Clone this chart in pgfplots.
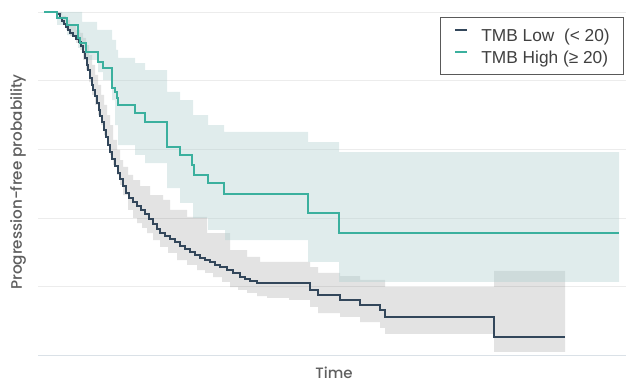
\documentclass[border=0pt]{standalone}
\usepackage{pgfplots}
\pgfplotsset{compat=1.18}
\usepgfplotslibrary{fillbetween}
\usepackage{fontspec}
\setmainfont{Poppins}[UprightFont=* Medium]
\newfontfamily\legendfont{Liberation Sans}
\definecolor{lowc}{RGB}{51,71,91}
\definecolor{highc}{RGB}{59,176,158}
\definecolor{tealband}{RGB}{177,207,207}
\definecolor{gridc}{RGB}{236,236,236}
\definecolor{axisc}{RGB}{218,225,231}
\definecolor{labelc}{RGB}{95,95,95}
\begin{document}
\begin{tikzpicture}
\begin{axis}[
  scale only axis, width=588bp, height=343.5bp,
  xmin=-0.6, xmax=58.2, ymin=0, ymax=1,
  axis x line*=bottom, axis y line*=left,
  x axis line style={draw=axisc, line width=1bp, -},
  y axis line style={draw=none},
  xtick=\empty, ytick={0.2,0.4,0.6,0.8,1.0}, yticklabels={,,,,}, major tick length=0pt,
  ymajorgrids, major grid style={draw=gridc, line width=0.8bp},
  legend cell align=left,
  legend style={at={(0.9966,0.9854)}, anchor=north east, draw=black!65, line width=0.6bp,
    font=\legendfont\fontsize{17.3bp}{19bp}\selectfont, text=black!75,
    inner xsep=14bp, inner ysep=9.5bp, row sep=6bp, column sep=13bp,
    nodes={inner xsep=0bp, inner ysep=0bp, text height=15bp, text depth=1bp}},
  legend image code/.code={\draw[#1, line width=2bp] (0bp,5bp) -- (12bp,5bp);},
]
\coordinate (O) at (rel axis cs:0,0);
% gray band (TMB Low CI)
\addplot[const plot, draw=none, forget plot, name path=LU] table {
0 1.000
1.8 0.9884
2.2 0.9767
2.6 0.9622
3.2 0.9476
3.6 0.9389
3.9 0.9243
4.2 0.9039
4.5 0.8748
4.8 0.8457
5.1 0.8166
5.4 0.7875
5.7 0.7584
6.0 0.7293
6.3 0.7001
6.6 0.6710
6.9 0.6274
7.3 0.5983
7.6 0.5691
7.9 0.5488
8.4 0.5255
8.9 0.5109
9.6 0.4934
10.6 0.4672
11.9 0.4527
12.6 0.4236
14.3 0.4032
16.3 0.3566
18.6 0.3071
20.3 0.2868
21.6 0.2722
26.6 0.2576
27.4 0.2402
29.6 0.2314
31.6 0.2198
34.1 0.1994
45.0 0.2460
52.1 0.2460
};
\addplot[const plot, draw=none, forget plot, name path=LL] table {
0 1.000
1.3 0.9913
1.8 0.9680
2.2 0.9476
2.6 0.9301
3.2 0.9098
3.6 0.8894
3.9 0.8603
4.2 0.8311
4.5 0.7962
4.8 0.7584
5.1 0.7293
5.4 0.7001
5.7 0.6710
6.0 0.6419
6.3 0.6128
6.6 0.5837
6.9 0.5546
7.3 0.5255
7.6 0.4964
7.9 0.4672
8.4 0.4236
8.9 0.4003
9.3 0.3857
9.8 0.3712
10.3 0.3566
10.9 0.3362
11.6 0.3159
12.4 0.2984
13.3 0.2780
14.3 0.2635
15.3 0.2489
16.1 0.2402
16.9 0.2285
17.8 0.2140
18.6 0.1994
19.4 0.1907
20.3 0.1820
21.3 0.1732
22.3 0.1674
24.5 0.1616
26.6 0.1412
27.4 0.1237
29.6 0.1121
31.6 0.0975
33.6 0.0801
34.1 0.0626
45.0 0.0102
52.1 0.0102
};
\addplot[fill=black, fill opacity=0.11, draw=none, forget plot] fill between[of=LU and LL];
% teal band (TMB High CI)
\addplot[const plot, draw=none, forget plot, name path=HU] table {
0 1.000
3.8 0.9709
5.3 0.9476
6.8 0.9185
7.2 0.8894
7.4 0.8661
9.1 0.8515
10.1 0.8311
12.3 0.7671
13.6 0.7438
14.9 0.7001
16.4 0.6710
18.0 0.6507
26.4 0.6215
29.5 0.5924
57.5 0.5924
};
\addplot[const plot, draw=none, forget plot, name path=HL] table {
0 1.000
1.3 0.9622
2.3 0.9330
3.4 0.8952
4.2 0.8603
5.4 0.8253
5.9 0.8020
6.8 0.7438
7.1 0.6710
7.4 0.6128
9.1 0.5837
10.1 0.5604
12.3 0.4876
13.6 0.4440
14.9 0.4003
16.4 0.3654
18.1 0.3362
26.4 0.2722
29.5 0.2140
57.5 0.2140
};
\addplot[fill=tealband, fill opacity=0.4, draw=none, forget plot] fill between[of=HU and HL];
% TMB Low
\addplot[const plot, color=lowc, line width=1.6bp] table {
0 1.000
1.3 0.9942
1.6 0.9825
1.8 0.9738
2.0 0.9651
2.2 0.9563
2.4 0.9476
2.6 0.9389
2.9 0.9301
3.2 0.9214
3.5 0.9127
3.7 0.9010
3.9 0.8836
4.1 0.8661
4.3 0.8457
4.4 0.8311
4.6 0.8079
4.8 0.7875
4.9 0.7729
5.1 0.7555
5.3 0.7351
5.5 0.7147
5.6 0.6972
5.8 0.6798
6.0 0.6565
6.2 0.6361
6.4 0.6128
6.6 0.5924
6.8 0.5721
7.1 0.5517
7.4 0.5313
7.6 0.5138
7.9 0.4934
8.2 0.4731
8.5 0.4585
8.9 0.4469
9.3 0.4352
9.7 0.4236
10.1 0.4119
10.5 0.3974
10.9 0.3828
11.3 0.3683
11.6 0.3566
12.1 0.3479
12.6 0.3392
13.1 0.3304
13.6 0.3188
14.1 0.3100
14.6 0.3013
15.1 0.2926
15.6 0.2838
16.1 0.2780
16.6 0.2722
17.1 0.2635
17.6 0.2576
18.3 0.2489
18.9 0.2402
19.6 0.2285
20.1 0.2227
20.6 0.2169
21.3 0.2111
26.6 0.1907
27.4 0.1761
29.6 0.1616
31.6 0.1470
33.6 0.1325
34.1 0.1121
45.0 0.0539
52.1 0.0539
};
\addlegendentry{TMB Low\ \ (< 20)\hspace{7bp}}
% TMB High
\addplot[const plot, color=highc, line width=1.6bp] table {
0 1.000
1.3 0.9825
2.3 0.9622
3.4 0.9243
3.6 0.9098
4.2 0.8836
5.4 0.8544
5.9 0.8370
6.8 0.7787
7.1 0.7671
7.3 0.7496
7.4 0.7293
9.1 0.7060
10.1 0.6798
12.3 0.6070
13.6 0.5837
14.8 0.5546
15.0 0.5255
16.4 0.5022
18.0 0.4702
26.4 0.4148
29.5 0.3566
57.5 0.3566
};
\addlegendentry{TMB High (≥ 20)\hspace{7bp}}
\end{axis}
\node[rotate=90, text=labelc, font=\fontsize{15.2bp}{17bp}\selectfont] at ([shift={(-20bp,173.5bp)}]O) {Progression-free probability};
\node[text=labelc, font=\fontsize{15bp}{17bp}\selectfont, anchor=base, inner sep=0pt] at ([shift={(296bp,-22.5bp)}]O) {Time};
\pgfresetboundingbox
\path[use as bounding box] ([shift={(-38bp,-27.5bp)}]O) rectangle ++(626bp,383bp);
\end{tikzpicture}
\end{document}
